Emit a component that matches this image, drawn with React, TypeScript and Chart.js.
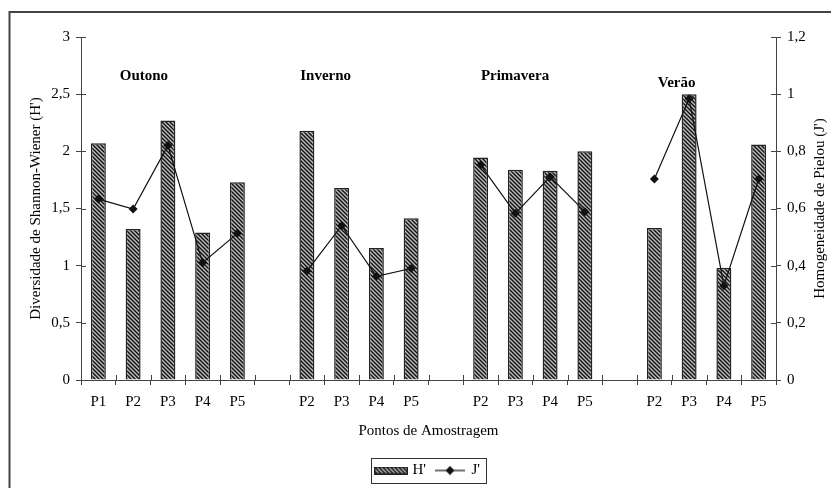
import React, { useEffect, useRef } from 'react';
import { Chart, registerables } from 'chart.js';

Chart.register(...registerables);

const categories = ['P1', 'P2', 'P3', 'P4', 'P5', '', 'P2', 'P3', 'P4', 'P5', '', 'P2', 'P3', 'P4', 'P5', '', 'P2', 'P3', 'P4', 'P5'];
const shannonH = [2.07, 1.32, 2.27, 1.29, 1.73, null, 2.18, 1.68, 1.155, 1.415, null, 1.945, 1.84, 1.83, 2.0, null, 1.33, 2.5, 0.98, 2.06];
const pielouJ = [0.633, 0.598, 0.82, 0.41, 0.513, null, 0.381, 0.54, 0.363, 0.39, null, 0.752, 0.583, 0.711, 0.589, null, 0.703, 0.984, 0.33, 0.703];
const leftTickLabels = ['0', '0,5', '1', '1,5', '2', '2,5', '3'];
const rightTickLabels = ['0', '0,2', '0,4', '0,6', '0,8', '1', '1,2'];
const seasonNames = ['Outono', 'Inverno', 'Primavera', 'Verão'];
const seasonX = [1.31, 6.54, 11.99, 16.64];
const seasonY = [2.66, 2.66, 2.66, 2.6];

const FONT = '"Liberation Serif", "Times New Roman", serif';
const AXIS = '#444';

function makeHatch(): CanvasPattern | string {
  const c = document.createElement('canvas');
  c.width = 4;
  c.height = 4;
  const g = c.getContext('2d');
  if (!g) return '#888';
  g.fillStyle = '#bcbcbc';
  g.fillRect(0, 0, 4, 4);
  g.strokeStyle = '#111';
  g.lineWidth = 1.4;
  g.beginPath();
  g.moveTo(-1, -1); g.lineTo(5, 5);
  g.moveTo(-1, 3); g.lineTo(1, 5);
  g.moveTo(3, -1); g.lineTo(5, 1);
  g.stroke();
  return g.createPattern(c, 'repeat') || '#888';
}

function makeBarSwatch(pattern: CanvasPattern | string): HTMLCanvasElement {
  const c = document.createElement('canvas');
  c.width = 34;
  c.height = 8;
  const g = c.getContext('2d')!;
  g.fillStyle = pattern as any;
  g.fillRect(0, 0, 34, 8);
  g.strokeStyle = '#222';
  g.lineWidth = 1.5;
  g.strokeRect(0.75, 0.75, 32.5, 6.5);
  return c;
}

function makeLineSwatch(): HTMLCanvasElement {
  const c = document.createElement('canvas');
  c.width = 30;
  c.height = 10;
  const g = c.getContext('2d')!;
  g.strokeStyle = '#111';
  g.lineWidth = 1.2;
  g.beginPath();
  g.moveTo(0, 5); g.lineTo(30, 5);
  g.stroke();
  g.fillStyle = '#111';
  g.beginPath();
  g.moveTo(15, 0.5); g.lineTo(19.5, 5); g.lineTo(15, 9.5); g.lineTo(10.5, 5);
  g.closePath();
  g.fill();
  return c;
}

const framePlugin = {
  id: 'frame',
  beforeDraw(chart: any) {
    const ctx = chart.ctx;
    ctx.save();
    ctx.fillStyle = '#fff';
    ctx.fillRect(0, 0, chart.width, chart.height);
    ctx.strokeStyle = '#444';
    ctx.lineWidth = 2;
    ctx.strokeRect(1.5, 4, chart.width + 20, chart.height + 20);
    ctx.restore();
  },
};

const innerTicksPlugin = {
  id: 'innerTicks',
  afterDraw(chart: any) {
    const ctx = chart.ctx;
    const x = chart.scales.x;
    const y = chart.scales.y;
    const yR = chart.scales.yR;
    ctx.save();
    ctx.strokeStyle = AXIS;
    ctx.lineWidth = 1;
    ctx.beginPath();
    const n = categories.length;
    for (let i = 0; i <= n; i++) {
      const px = Math.round(x.getPixelForValue(i - 0.5)) + 0.5;
      ctx.moveTo(px, x.top);
      ctx.lineTo(px, x.top - 5);
    }
    y.ticks.forEach((_t: any, i: number) => {
      const py = Math.round(y.getPixelForTick(i)) + 0.5;
      ctx.moveTo(y.right, py);
      ctx.lineTo(y.right + 5, py);
    });
    yR.ticks.forEach((_t: any, i: number) => {
      const py = Math.round(yR.getPixelForTick(i)) + 0.5;
      ctx.moveTo(yR.left, py);
      ctx.lineTo(yR.left - 5, py);
    });
    ctx.stroke();
    ctx.restore();
  },
};

const seasonPlugin = {
  id: 'seasons',
  afterDatasetsDraw(chart: any) {
    const ctx = chart.ctx;
    const x = chart.scales.x;
    const y = chart.scales.y;
    ctx.save();
    ctx.font = `bold 15px ${FONT}`;
    ctx.fillStyle = '#000';
    ctx.textAlign = 'center';
    ctx.textBaseline = 'middle';
    seasonNames.forEach((name, i) => {
      ctx.fillText(name, x.getPixelForValue(seasonX[i]), y.getPixelForValue(seasonY[i]));
    });
    ctx.restore();
  },
};

const rightTitlePlugin = {
  id: 'rightTitle',
  afterDraw(chart: any) {
    const ctx = chart.ctx;
    const yR = chart.scales.yR;
    ctx.save();
    ctx.font = `15px ${FONT}`;
    ctx.fillStyle = '#000';
    ctx.textAlign = 'center';
    ctx.textBaseline = 'middle';
    ctx.translate(yR.right - 19, (yR.top + yR.bottom) / 2);
    ctx.rotate(-Math.PI / 2);
    ctx.fillText("Homogeneidade de Pielou (J')", 0, 0);
    ctx.restore();
  },
};

const legendBoxPlugin = {
  id: 'legendBox',
  afterDraw(chart: any) {
    const lg = chart.legend;
    if (!lg || !lg.legendHitBoxes || !lg.legendHitBoxes.length) return;
    const hb = lg.legendHitBoxes;
    let l = Infinity, r = -Infinity, t = Infinity, b = -Infinity;
    hb.forEach((h: any) => {
      l = Math.min(l, h.left);
      r = Math.max(r, h.left + h.width);
      t = Math.min(t, h.top);
      b = Math.max(b, h.top + h.height);
    });
    const ctx = chart.ctx;
    ctx.save();
    ctx.strokeStyle = '#333';
    ctx.lineWidth = 1;
    ctx.strokeRect(Math.round(l - 6) + 0.5, Math.round(t - 5) + 0.5, Math.round(r - l + 12), Math.round(b - t + 10));
    ctx.restore();
  },
};

export default function App() {
  const ref = useRef<HTMLCanvasElement | null>(null);

  useEffect(() => {
    if (!ref.current) return;
    const hatch = makeHatch();
    const barSwatch = makeBarSwatch(hatch);
    const lineSwatch = makeLineSwatch();

    const chart = new Chart(ref.current, {
      data: {
        labels: categories,
        datasets: [
          {
            type: 'bar',
            label: "H'",
            data: shannonH,
            yAxisID: 'y',
            backgroundColor: hatch as any,
            borderColor: '#222',
            borderWidth: 1.5,
            categoryPercentage: 1,
            barPercentage: 0.43,
            order: 1,
          },
          {
            type: 'line',
            label: "J'",
            data: pielouJ,
            yAxisID: 'yR',
            borderColor: '#111',
            borderWidth: 1.2,
            pointStyle: 'rectRot',
            pointRadius: 4.5,
            pointBackgroundColor: '#111',
            pointBorderColor: '#111',
            pointBorderWidth: 0,
            spanGaps: false,
            tension: 0,
            order: 0,
          },
        ],
      } as any,
      options: {
        responsive: false,
        animation: false,
        devicePixelRatio: 1,
        layout: { padding: { top: 29, left: 0, right: 0, bottom: 0 } },
        plugins: {
          tooltip: { enabled: false },
          legend: {
            display: true,
            position: 'bottom',
            fullSize: false,
            labels: {
              font: { family: FONT, size: 15 },
              color: '#000',
              usePointStyle: true,
              pointStyleWidth: 28,
              padding: 10,
              generateLabels: () => [
                { text: "H'", pointStyle: barSwatch, fillStyle: '#888', strokeStyle: '#222', lineWidth: 0, hidden: false, datasetIndex: 0, fontColor: '#000' },
                { text: "J'", pointStyle: lineSwatch, fillStyle: '#111', strokeStyle: '#111', lineWidth: 0, hidden: false, datasetIndex: 1, fontColor: '#000' },
              ] as any,
            },
          },
        },
        scales: {
          x: {
            type: 'category',
            offset: true,
            grid: { offset: true, drawOnChartArea: false, tickLength: 5, color: AXIS },
            border: { color: AXIS, width: 1 },
            ticks: { font: { family: FONT, size: 15 }, color: '#000', padding: 8, autoSkip: false, maxRotation: 0 },
            title: {
              display: true,
              text: 'Pontos de Amostragem',
              font: { family: FONT, size: 15 },
              color: '#000',
              padding: { top: 0, bottom: 13 },
            },
            afterFit: (s: any) => { s.height = 73; },
          },
          y: {
            type: 'linear',
            position: 'left',
            min: 0,
            max: 3,
            grid: { drawOnChartArea: false, tickLength: 5, color: AXIS },
            border: { color: AXIS, width: 1 },
            ticks: {
              stepSize: 0.5,
              font: { family: FONT, size: 15 },
              color: '#000',
              padding: 6,
              callback: (_v: any, i: number) => leftTickLabels[i],
            },
            title: {
              display: true,
              text: "Diversidade de Shannon-Wiener (H')",
              font: { family: FONT, size: 15 },
              color: '#000',
              padding: { top: 19, bottom: 0 },
            },
            afterFit: (s: any) => { s.width = 73; },
          },
          yR: {
            type: 'linear',
            position: 'right',
            min: 0,
            max: 1.2,
            grid: { drawOnChartArea: false, tickLength: 5, color: AXIS },
            border: { color: AXIS, width: 1 },
            ticks: {
              stepSize: 0.2,
              font: { family: FONT, size: 15 },
              color: '#000',
              padding: 6,
              callback: (_v: any, i: number) => rightTickLabels[i],
            },
            afterFit: (s: any) => { s.width = 63; },
          },
        },
      } as any,
      plugins: [framePlugin, innerTicksPlugin, seasonPlugin, rightTitlePlugin, legendBoxPlugin],
    });
    return () => chart.destroy();
  }, []);

  return (
    <div style={{ width: 831, height: 480 }}>
      <canvas ref={ref} width={831} height={480} style={{ display: 'block', width: 831, height: 480 }} />
    </div>
  );
}
